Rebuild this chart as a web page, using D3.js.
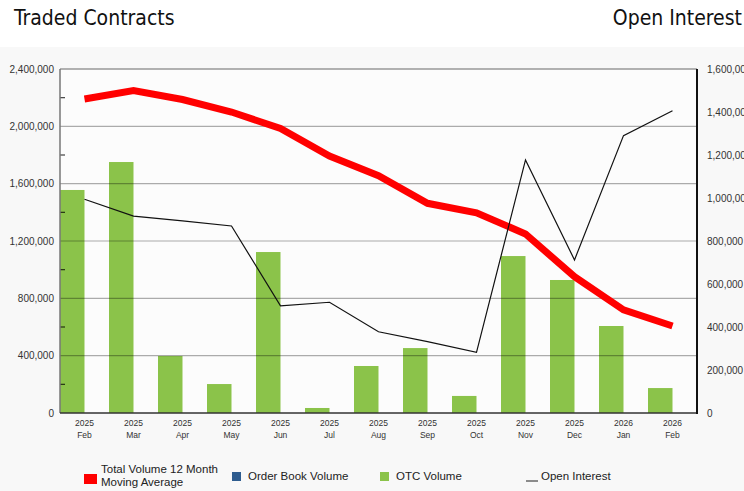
<!DOCTYPE html>
<html>
<head>
<meta charset="utf-8">
<script src="https://cdn.jsdelivr.net/npm/d3@7"></script>
<style>
  body { margin: 0; background: #fff; }
  svg { display: block; }
</style>
</head>
<body>
<script>
// data
const years = ["2025","2025","2025","2025","2025","2025","2025","2025","2025","2025","2025","2026","2026"];
const months = ["Feb","Mar","Apr","May","Jun","Jul","Aug","Sep","Oct","Nov","Dec","Jan","Feb"];
const otcVolume = [1556000, 1751000, 398000, 202000, 1123000, 35000, 328000, 453000, 119000, 1095000, 928000, 607000, 174000];
const orderBookVolume = [0,0,0,0,0,0,0,0,0,0,0,0,0];
const movingAvg = [2191000, 2249000, 2187000, 2100000, 1985000, 1793000, 1656000, 1463000, 1397000, 1249000, 951000, 719000, 607000];
const openInterest = [994000, 916000, 894000, 870000, 498000, 515000, 378000, 332000, 282000, 1177000, 712000, 1290000, 1406000];
const leftTicks = [0, 400000, 800000, 1200000, 1600000, 2000000, 2400000];
const rightTicks = [0, 200000, 400000, 600000, 800000, 1000000, 1200000, 1400000, 1600000];

const W = 744, H = 491;
const m = {left: 60, right: 697, top: 69, bottom: 413};
const fmt = d3.format(",");

const svg = d3.select("body").append("svg").attr("width", W).attr("height", H)
  .style("font-family", "'Liberation Sans', Arial, sans-serif");

svg.append("rect").attr("x", 0).attr("y", 47).attr("width", W).attr("height", H - 47).attr("fill", "#f8f8f8");
svg.append("rect").attr("x", m.left).attr("y", m.top).attr("width", m.right - m.left).attr("height", m.bottom - m.top)
  .attr("fill", "#fcfcfc");

svg.append("text").attr("x", 14).attr("y", 25).text("Traded Contracts")
  .style("font-family", "'DejaVu Sans Condensed', sans-serif").style("font-size", "21px").attr("fill", "#111");
svg.append("text").attr("x", 742).attr("y", 25).attr("text-anchor", "end").text("Open Interest")
  .style("font-family", "'DejaVu Sans Condensed', sans-serif").style("font-size", "21px").attr("fill", "#111");

const idx = d3.range(months.length);
const x = d3.scaleBand().domain(idx).range([m.left, m.right]).padding(0);
const xSub = d3.scaleBand().domain(["otc", "ob"]).range([0, x.bandwidth()]);
const yL = d3.scaleLinear().domain([0, 2400000]).range([m.bottom, m.top]);
const yR = d3.scaleLinear().domain([0, 1600000]).range([m.bottom, m.top]);

// bars
svg.append("g").selectAll("rect").data(idx).join("rect")
  .attr("x", i => x(i) + xSub("otc"))
  .attr("width", xSub.bandwidth())
  .attr("y", i => yL(otcVolume[i]))
  .attr("height", i => yL(0) - yL(otcVolume[i]))
  .attr("fill", "#8bc34a");
svg.append("g").selectAll("rect").data(idx).join("rect")
  .attr("x", i => x(i) + xSub("ob"))
  .attr("width", xSub.bandwidth())
  .attr("y", i => yL(orderBookVolume[i]))
  .attr("height", i => yL(0) - yL(orderBookVolume[i]))
  .attr("fill", "#2e5c8f");

// gridlines on top, semi transparent
svg.append("g").selectAll("line").data(leftTicks.slice(1, -1)).join("line")
  .attr("x1", m.left).attr("x2", m.right)
  .attr("y1", d => yL(d)).attr("y2", d => yL(d))
  .attr("stroke", "#000").attr("stroke-opacity", 0.32).attr("stroke-width", 1.2);

// minor ticks on left axis
svg.append("g").selectAll("line").data(d3.range(200000, 2400000, 400000)).join("line")
  .attr("x1", m.left).attr("x2", m.left + 5)
  .attr("y1", d => yL(d)).attr("y2", d => yL(d))
  .attr("stroke", "#000").attr("stroke-opacity", 0.75).attr("stroke-width", 1.2);

// frame
svg.append("line").attr("x1", m.left).attr("x2", m.right).attr("y1", m.top).attr("y2", m.top)
  .attr("stroke", "#999").attr("stroke-width", 1.5);
svg.append("line").attr("x1", m.left).attr("x2", m.left).attr("y1", m.top).attr("y2", m.bottom)
  .attr("stroke", "#777").attr("stroke-width", 1.5);
svg.append("line").attr("x1", m.left).attr("x2", m.right).attr("y1", m.bottom).attr("y2", m.bottom)
  .attr("stroke", "#333").attr("stroke-width", 1.5);
svg.append("line").attr("x1", m.right).attr("x2", m.right).attr("y1", m.top).attr("y2", m.bottom + 1)
  .attr("stroke", "#111").attr("stroke-width", 2);

// axes
const axL = svg.append("g").attr("transform", `translate(${m.left},0)`)
  .call(d3.axisLeft(yL).tickValues(leftTicks).tickFormat(fmt).tickSize(0).tickPadding(6));
const axR = svg.append("g").attr("transform", `translate(${m.right},0)`)
  .call(d3.axisRight(yR).tickValues(rightTicks).tickFormat(fmt).tickSize(0).tickPadding(10));
[axL, axR].forEach(a => {
  a.select(".domain").remove();
  a.selectAll("text").style("font-size", "10px").style("font-family", "'Liberation Sans', Arial, sans-serif").attr("fill", "#333");
});

const xl = svg.append("g").selectAll("text").data(idx).join("text")
  .attr("text-anchor", "middle")
  .attr("fill", "#333")
  .style("font-size", "8.5px");
xl.append("tspan").attr("x", i => x(i) + x.bandwidth() / 2).attr("y", 426).text(i => years[i]);
xl.append("tspan").attr("x", i => x(i) + x.bandwidth() / 2).attr("y", 438).text(i => months[i]);

// lines
const cx = i => x(i) + x.bandwidth() / 2;
svg.append("path").datum(idx)
  .attr("d", d3.line().x(cx).y(i => yL(movingAvg[i])))
  .attr("fill", "none").attr("stroke", "#ff0000").attr("stroke-width", 7);
svg.append("path").datum(idx)
  .attr("d", d3.line().x(cx).y(i => yR(openInterest[i])))
  .attr("fill", "none").attr("stroke", "#111").attr("stroke-width", 1.2);

// legend
const lg = svg.append("g").style("font-size", "11.5px").attr("fill", "#222");
lg.append("rect").attr("x", 84).attr("y", 474).attr("width", 13).attr("height", 10).attr("fill", "#ff0000");
lg.append("text").attr("x", 101).attr("y", 473).text("Total Volume 12 Month");
lg.append("text").attr("x", 101).attr("y", 486).text("Moving Average");
lg.append("rect").attr("x", 232).attr("y", 472).attr("width", 9).attr("height", 9).attr("fill", "#2e5c8f");
lg.append("text").attr("x", 248).attr("y", 480).text("Order Book Volume");
lg.append("rect").attr("x", 380).attr("y", 472).attr("width", 9).attr("height", 9).attr("fill", "#8bc34a");
lg.append("text").attr("x", 396).attr("y", 480).text("OTC Volume");
lg.append("line").attr("x1", 526).attr("x2", 538).attr("y1", 481).attr("y2", 481).attr("stroke", "#444").attr("stroke-width", 1.2);
lg.append("text").attr("x", 541).attr("y", 480).text("Open Interest");
</script>
</body>
</html>
